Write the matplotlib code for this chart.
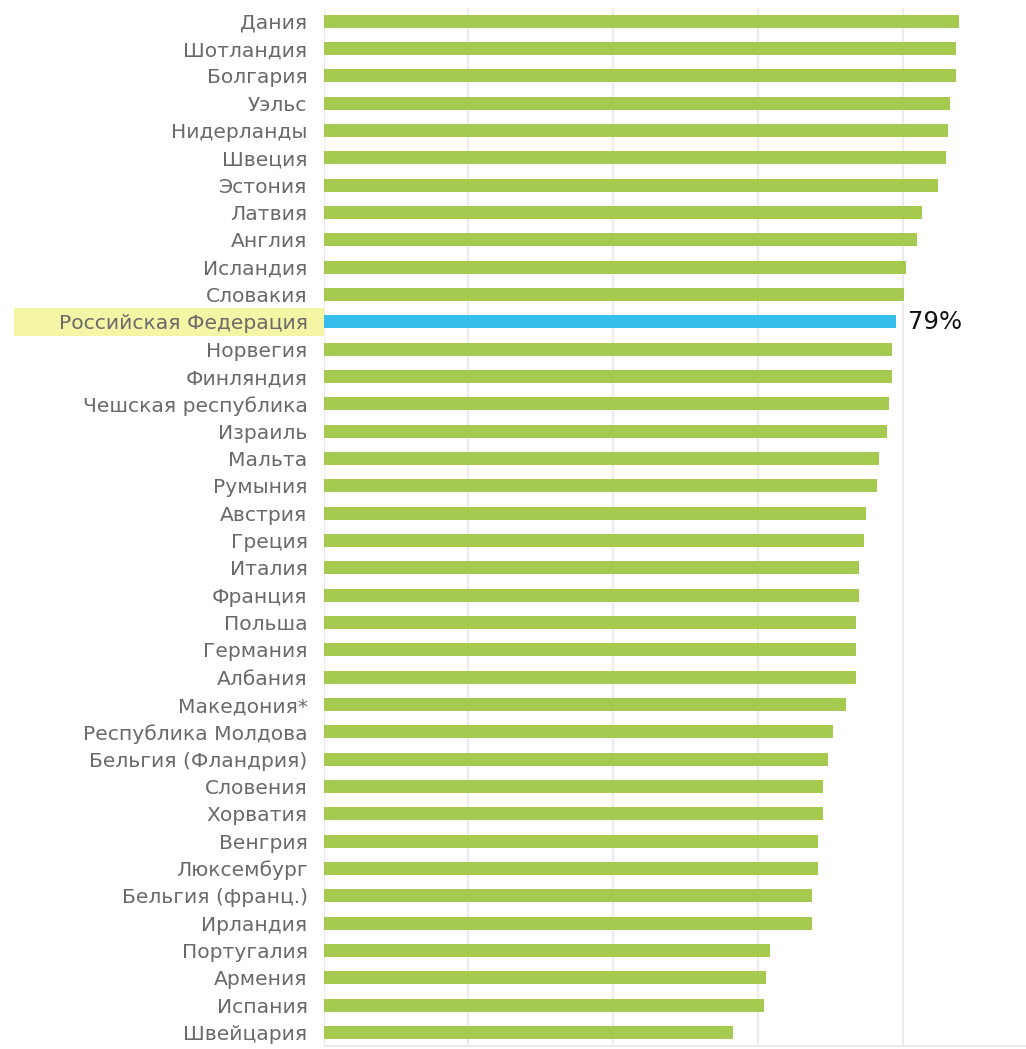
import matplotlib
matplotlib.use("Agg")
import matplotlib.pyplot as plt
import matplotlib.transforms as mtransforms
from matplotlib.patches import Rectangle

countries = [
    "Дания", "Шотландия", "Болгария", "Уэльс", "Нидерланды", "Швеция",
    "Эстония", "Латвия", "Англия", "Исландия", "Словакия",
    "Российская Федерация", "Норвегия", "Финляндия", "Чешская республика",
    "Израиль", "Мальта", "Румыния", "Австрия", "Греция", "Италия",
    "Франция", "Польша", "Германия", "Албания", "Македония*",
    "Республика Молдова", "Бельгия (Фландрия)", "Словения", "Хорватия",
    "Венгрия", "Люксембург", "Бельгия (франц.)", "Ирландия",
    "Португалия", "Армения", "Испания", "Швейцария",
]
values = [
    87.8, 87.3, 87.3, 86.6, 86.2, 86.0,
    84.9, 82.7, 82.0, 80.5, 80.2,
    79.1, 78.5, 78.5, 78.1,
    77.8, 76.7, 76.4, 74.9, 74.6, 73.9,
    73.9, 73.5, 73.5, 73.5, 72.2,
    70.4, 69.7, 69.0, 69.0,
    68.3, 68.3, 67.5, 67.5,
    61.7, 61.1, 60.8, 56.5,
]
highlight = "Российская Федерация"
highlight_label = "79%"
xticks = [0, 20, 40, 60, 80]

GREEN = "#a6ca4f"
BLUE = "#37bdeb"
YELLOW = "#f5f5a6"
LABEL = "#6a6a6a"

W, H = 1026, 1049
fig = plt.figure(figsize=(W / 100, H / 100), dpi=100)
left_px, top_px, bottom_px = 323.5, 7.6, 1046.2
ax = fig.add_axes([left_px / W, 1 - bottom_px / H, 1 - left_px / W, (bottom_px - top_px) / H])

ypos = list(range(len(countries)))
colors = [BLUE if c == highlight else GREEN for c in countries]
ax.barh(ypos, values, height=0.475, color=colors, zorder=3)

ax.set_ylim(len(countries) - 0.5, -0.5)
ax.set_xlim(0, (W - left_px) / 7.24)
ax.set_xticks(xticks)
ax.set_xticklabels([])
ax.tick_params(axis="x", length=0)
ax.grid(axis="x", color="#ececec", linewidth=1.6, zorder=0)
ax.set_yticks(ypos)
ax.set_yticklabels(countries, fontsize=14.6, color=LABEL, family=["DejaVu Sans"])
ax.tick_params(axis="y", length=0, pad=11.5)
for s in ["top", "right", "left"]:
    ax.spines[s].set_visible(False)
ax.spines["bottom"].set_color("#ececec")
ax.spines["bottom"].set_linewidth(1.6)

idx = countries.index(highlight)
trans = mtransforms.blended_transform_factory(fig.transFigure, ax.transData)
rect = Rectangle((14 / W, idx - 0.5), (left_px - 14) / W, 1.0, transform=trans,
                 facecolor=YELLOW, edgecolor="none", clip_on=False, zorder=0)
ax.add_patch(rect)

ax.text(values[idx] + 1.7, idx, highlight_label, va="center", ha="left",
        fontsize=17.5, color="#111111", family=["DejaVu Sans"])

fig.savefig("out.png", dpi=100)
